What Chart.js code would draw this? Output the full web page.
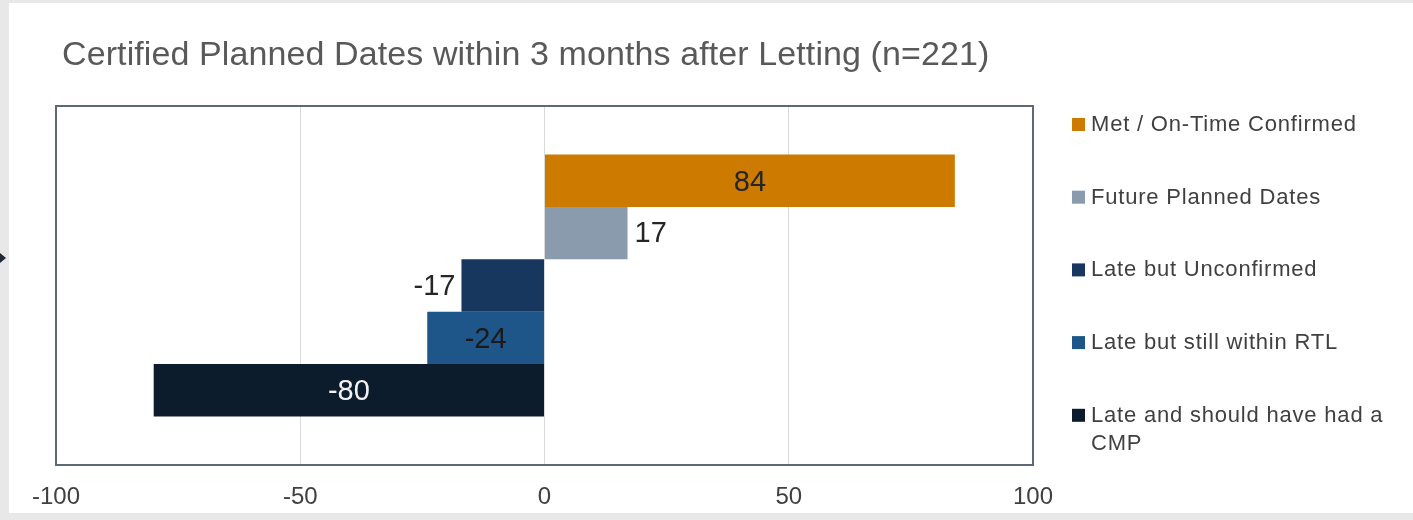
<!DOCTYPE html>
<html lang="en">
<head>
  <title>Certified Planned Dates</title>
  <meta charset="utf-8">
  <style>
    body { margin: 0; background: #e8e8e8; }
  </style>
</head>
<body>
  <canvas id="myChart" width="1413" height="520"></canvas>
  <script src="https://cdn.jsdelivr.net/npm/chart.js@4"></script>
  <script>
    // data
    const titulo = 'Certified Planned Dates within 3 months after Letting (n=221)';
    const series = ['Met / On-Time Confirmed', 'Future Planned Dates', 'Late but Unconfirmed',
      'Late but still within RTL', 'Late and should have had a CMP'];
    const valores = [84, 17, -17, -24, -80];
    const xTicks = [-100, -50, 0, 50, 100];

    const cores = ['#cc7a00', '#8a9bae', '#17375e', '#1f5689', '#0c1c2d'];
    const posRotulo = ['center', 'outside', 'outside', 'center', 'center'];
    const corRotulo = ['#262626', '#262626', '#262626', '#1a1a1a', '#f2f2f2'];
    const fonte = '"Liberation Sans", Arial, sans-serif';

    const fundo = {
      id: 'fundo',
      beforeDraw(chart) {
        const c = chart.ctx;
        c.save();
        c.fillStyle = '#e8e8e8';
        c.fillRect(0, 0, chart.width, chart.height);
        c.fillStyle = '#ffffff';
        c.fillRect(9, 3, chart.width - 9, 510);
        // little arrow at the left edge
        c.fillStyle = '#1f2a36';
        c.beginPath();
        c.moveTo(0, 253); c.lineTo(6, 258); c.lineTo(0, 263);
        c.fill();
        // title
        c.fillStyle = '#595959';
        c.font = '34px ' + fonte;
        c.letterSpacing = '0.1px';
        c.textBaseline = 'alphabetic';
        c.fillText(titulo, 62, 65);
        c.restore();
      },
      beforeDatasetsDraw(chart) {
        const a = chart.chartArea, c = chart.ctx;
        c.save();
        c.strokeStyle = '#5e6976';
        c.lineWidth = 2;
        c.strokeRect(a.left, a.top, a.right - a.left, a.bottom - a.top);
        c.restore();
      },
      afterDatasetsDraw(chart) {
        const c = chart.ctx;
        c.save();
        c.font = '29px ' + fonte;
        c.textBaseline = 'middle';
        chart.data.datasets.forEach((ds, i) => {
          const el = chart.getDatasetMeta(i).data[0];
          const v = ds.data[0];
          c.fillStyle = corRotulo[i];
          if (posRotulo[i] === 'center') {
            c.textAlign = 'center';
            c.fillText(String(v), (el.x + el.base) / 2, el.y + 2);
          } else {
            c.textAlign = v >= 0 ? 'left' : 'right';
            c.fillText(String(v), el.x + (v >= 0 ? 7 : -6), el.y + 1);
          }
        });
        // legend
        c.font = '22px ' + fonte;
        c.letterSpacing = '0.8px';
        c.textAlign = 'left';
        let y = 125;
        chart.data.datasets.forEach((ds, i) => {
          c.fillStyle = cores[i];
          c.fillRect(1072, y - 7, 13, 13);
          c.fillStyle = '#404040';
          const palavras = ds.label.split(' ');
          let linha = '', linhas = [];
          palavras.forEach(p => {
            const t = linha ? linha + ' ' + p : p;
            if (c.measureText(t).width > 305 && linha) { linhas.push(linha); linha = p; }
            else linha = t;
          });
          linhas.push(linha);
          linhas.forEach((l, k) => c.fillText(l, 1091, y + k * 28));
          y += 72.7;
        });
        c.restore();
      }
    };

    const ctx = document.getElementById('myChart');
    const myChart = new Chart(ctx, {
      type: 'bar',
      data: {
        labels: [''],
        datasets: series.map((s, i) => ({
          label: s,
          data: [valores[i]],
          backgroundColor: cores[i],
          categoryPercentage: 0.73,
          barPercentage: 1
        }))
      },
      options: {
        indexAxis: 'y',
        responsive: false,
        animation: false,
        layout: { padding: { left: 56, right: 380, top: 106, bottom: 0 } },
        plugins: { legend: { display: false }, title: { display: false }, tooltip: { enabled: false } },
        scales: {
          y: { display: false },
          x: {
            min: -100, max: 100,
            afterBuildTicks: s => { s.ticks = xTicks.map(v => ({ value: v })); },
            afterFit: s => { s.height = 55; },
            grid: { color: '#d9d9d9', lineWidth: 1, drawTicks: false },
            border: { display: false },
            ticks: { color: '#404040', font: { family: fonte, size: 24 }, padding: 18, maxRotation: 0 }
          }
        }
      },
      plugins: [fundo]
    });
  </script>
</body>
</html>
